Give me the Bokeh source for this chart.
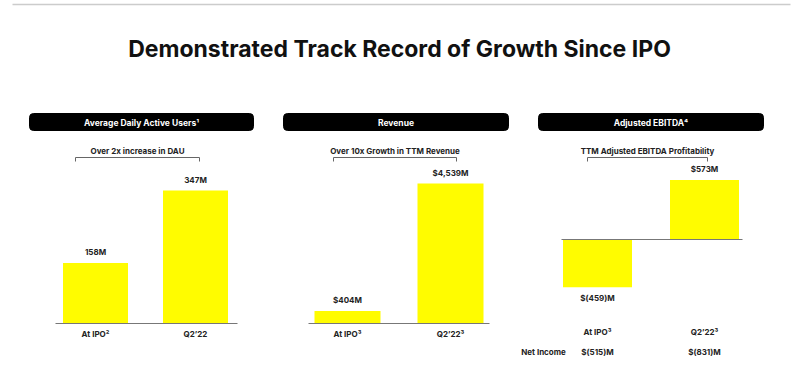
from bokeh.plotting import figure
from bokeh.models import Range1d, ColumnDataSource
from bokeh.core.properties import value
from bokeh.embed import file_html
from bokeh.resources import INLINE

# ---------------- data ----------------
title = "Demonstrated Track Record of Growth Since IPO"
panel_titles = ["Average Daily Active Users\u00b9", "Revenue", "Adjusted EBITDA\u2074"]
bracket_texts = ["Over 2x increase in DAU", "Over 10x Growth in TTM Revenue",
                 "TTM Adjusted EBITDA Profitability"]

dau_cats = ["At IPO\u00b2", "Q2\u201922"]
dau_vals = [158, 347]
dau_labels = ["158M", "347M"]

rev_cats = ["At IPO\u00b3", "Q2\u201922\u00b3"]
rev_vals = [404, 4539]
rev_labels = ["$404M", "$4,539M"]

ebitda_cats = ["At IPO\u00b3", "Q2\u201922\u00b3"]
ebitda_vals = [-459, 573]
ebitda_labels = ["$(459)M", "$573M"]

net_income_label = "Net Income"
net_income_vals = ["$(515)M", "$(831)M"]

# ---------------- layout ----------------
W, H = 800, 370
YELLOW = "#FFFC00"
FONT = "Inter"

p = figure(width=W, height=H, output_backend="svg", toolbar_location=None,
           x_range=Range1d(0, W), y_range=Range1d(H, 0),
           x_axis_type=None, y_axis_type=None, min_border=0)
p.outline_line_color = None
p.background_fill_color = "white"
p.border_fill_color = "white"

# per-panel value scales: (baseline pixel, pixels per unit)
def scale_range(base_px, px_per_unit):
    top_v = base_px / px_per_unit
    bot_v = -(H - base_px) / px_per_unit
    return Range1d(start=bot_v, end=top_v)

p.extra_y_ranges = {
    "dau": scale_range(323, 133 / 347),
    "rev": scale_range(323, 140 / 4539),
    "ebitda": scale_range(239, 0.104),
}

# top rule
p.segment(x0=[12], y0=[4], x1=[790], y1=[4], line_color="#cccccc", line_width=1.5)

# title
p.text(x=[399], y=[48], text=[title], text_align="center", text_baseline="middle",
       text_font=value(FONT), text_font_style="bold", text_font_size="23px",
       text_color="#111111")

# panel headers
hdr_x0 = [29, 283, 538]
hdr_x1 = [253, 508, 763]
for x0, x1, t in zip(hdr_x0, hdr_x1, panel_titles):
    p.quad(left=[x0], right=[x1], top=[113], bottom=[130], fill_color="black",
           line_color="black", border_radius=4)
    p.text(x=[(x0 + x1) / 2], y=[122], text=[t], text_align="center",
           text_baseline="middle", text_font=value(FONT), text_font_style="bold",
           text_font_size="8.5px", text_color="white")

# brackets
br_x0 = [75, 333, 587]
br_x1 = [199, 456, 707]
for x0, x1, t in zip(br_x0, br_x1, bracket_texts):
    p.segment(x0=[x0, x0, x1], y0=[157, 157, 157], x1=[x1, x0, x1], y1=[157, 161, 161],
              line_color="#666666", line_width=1)
    p.text(x=[(x0 + x1) / 2], y=[150], text=[t], text_align="center",
           text_baseline="middle", text_font=value(FONT), text_font_style="bold",
           text_font_size="8px", text_color="#222222")

label_kw = dict(text_align="center", text_font=value(FONT), text_font_style="bold",
                text_font_size="8px", text_color="#222222")

def panel(xs, width, vals, labels, cats, rname, axis_x0, axis_x1, cat_y):
    src = ColumnDataSource(dict(x=xs, top=vals, bottom=[0] * len(vals)))
    p.vbar(x="x", top="top", bottom="bottom", width=width, source=src,
           fill_color=YELLOW, line_color=None, y_range_name=rname)
    p.text(x=xs, y=vals, text=labels, y_range_name=rname,
           text_baseline=["bottom" if v >= 0 else "top" for v in vals],
           y_offset=[-6 if v >= 0 else 7 for v in vals], **label_kw)
    p.segment(x0=[axis_x0], y0=[0], x1=[axis_x1], y1=[0], line_color="#777777",
              line_width=1, y_range_name=rname)
    p.text(x=xs, y=[cat_y] * len(xs), text=cats, text_baseline="middle", **label_kw)

panel([95, 195], 65, dau_vals, dau_labels, dau_cats, "dau", 55, 237, 333)
panel([347, 450], 66, rev_vals, rev_labels, rev_cats, "rev", 308, 489, 333)

# EBITDA panel (categories lower, with net income row)
src = ColumnDataSource(dict(x=[597, 704], top=ebitda_vals, bottom=[0, 0]))
p.vbar(x="x", top="top", bottom="bottom", width=69, source=src,
       fill_color=YELLOW, line_color=None, y_range_name="ebitda")
p.text(x=[597, 704], y=ebitda_vals, text=ebitda_labels, y_range_name="ebitda",
       text_baseline=["top", "bottom"], y_offset=[6, -6], **label_kw)
p.segment(x0=[561], y0=[0], x1=[742], y1=[0], line_color="#777777", line_width=1,
          y_range_name="ebitda")
p.text(x=[597, 704], y=[331, 331], text=ebitda_cats, text_baseline="middle", **label_kw)
p.text(x=[543], y=[351], text=[net_income_label], text_baseline="middle", **label_kw)
p.text(x=[597, 704], y=[351, 351], text=net_income_vals, text_baseline="middle", **label_kw)

open("out.html", "w").write(file_html(p, INLINE))
